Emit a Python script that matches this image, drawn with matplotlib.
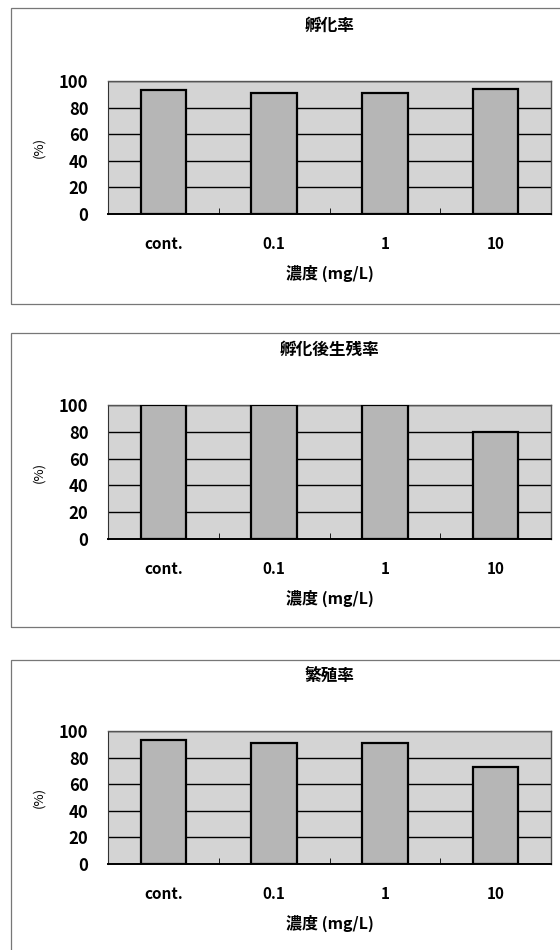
import matplotlib
matplotlib.use("Agg")
import matplotlib.pyplot as plt
from matplotlib.patches import Rectangle
import numpy as np

plt.rcParams['font.family'] = ['Noto Sans CJK JP', 'DejaVu Sans']

# data
concentrations = ['cont.', '0.1', '1', '10']
hatch_rate = [93, 91, 91, 94]        # 孵化率
survival_rate = [100, 100, 100, 80]  # 孵化後生残率
breeding_rate = [93, 91, 91, 73]     # 繁殖率

titles = ['孵化率', '孵化後生残率', '繁殖率']
series = [hatch_rate, survival_rate, breeding_rate]
y_ticks = [0, 20, 40, 60, 80, 100]

W, H = 560, 950
fig = plt.figure(figsize=(W / 100, H / 100), dpi=100)

# plot-area pixel boxes (top, bottom) and outer chart frames (top, bottom)
plot_boxes = [(81, 214), (405, 539), (731, 864)]
frames = [(8, 304), (333, 627), (660, 955)]
left_px, right_px = 108, 551

bg = '#d4d4d4'
bar_col = '#b6b6b6'

for (top, bot), (ftop, fbot), title, vals in zip(plot_boxes, frames, titles, series):
    # outer chart frame
    fig.patches.append(Rectangle((11 / W, 1 - fbot / H), (W + 5 - 11) / W, (fbot - ftop) / H,
                                 transform=fig.transFigure, fill=False,
                                 edgecolor='#777777', linewidth=0.9))

    ax = fig.add_axes([left_px / W, 1 - bot / H, (right_px - left_px) / W, (bot - top) / H])
    ax.set_facecolor(bg)
    x = np.arange(len(concentrations))
    ax.set_axisbelow(True)
    ax.yaxis.grid(True, color='black', linewidth=1.0)
    ax.bar(x, vals, width=0.41, color=bar_col, edgecolor='black', linewidth=1.6, zorder=3)
    ax.set_xlim(-0.5, len(concentrations) - 0.5)
    ax.set_ylim(0, 100)
    ax.set_yticks(y_ticks)
    ax.tick_params(axis='y', length=0, labelsize=12, pad=14)
    for lab in ax.get_yticklabels():
        lab.set_fontweight('bold')
    ax.set_xticks(x)
    ax.set_xticklabels(concentrations, fontsize=11, fontweight='bold')
    ax.tick_params(axis='x', length=0, pad=16)
    ax.set_xticks(x[:-1] + 0.5, minor=True)
    ax.tick_params(axis='x', which='minor', direction='in', length=4, color='black')
    for side in ['top', 'right']:
        ax.spines[side].set_color('#555555')
        ax.spines[side].set_linewidth(1.0)
    ax.spines['left'].set_color('#333333')
    ax.spines['bottom'].set_color('black')
    ax.spines['bottom'].set_linewidth(1.4)

    ax.set_title(title, fontsize=12, fontweight='bold', pad=36)
    ax.set_xlabel('濃度 (mg/L)', fontsize=11.5, fontweight='bold', labelpad=9)
    ax.set_ylabel('(%)', fontsize=9.5, labelpad=10)

fig.savefig('out.png', dpi=100, facecolor='white')
